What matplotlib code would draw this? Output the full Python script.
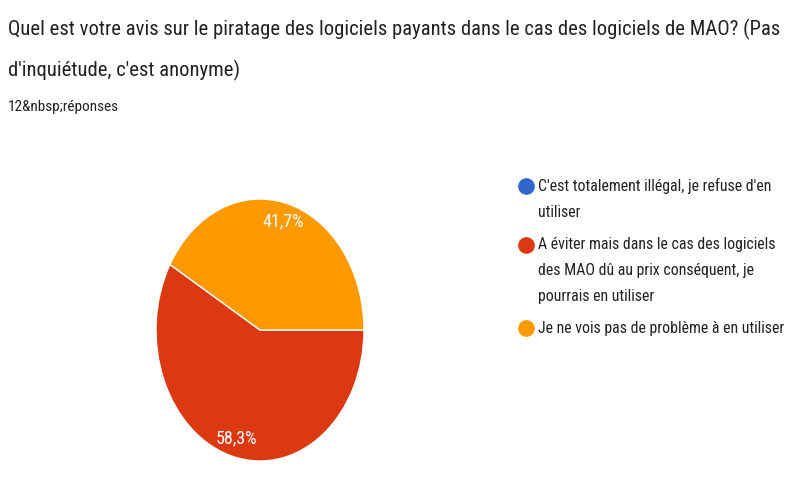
import matplotlib
matplotlib.use('Agg')
import matplotlib.pyplot as plt
import numpy as np
from matplotlib.lines import Line2D
from matplotlib.legend_handler import HandlerLine2D
from matplotlib import font_manager

# data
answers = ["C'est totalement illégal, je refuse d'en\nutiliser",
           "A éviter mais dans le cas des logiciels\ndes MAO dû au prix conséquent, je\npourrais en utiliser",
           "Je ne vois pas de problème à en utiliser"]
counts = [0, 7, 5]
colors = ['#3366cc', '#dc3912', '#ff9900']

title = "Quel est votre avis sur le piratage des logiciels payants dans le cas des logiciels de MAO? (Pas\nd'inquiétude, c'est anonyme)"
subtitle = "12&nbsp;réponses"

names = {f.name for f in font_manager.fontManager.ttflist}
condensed = None
for n in ['Roboto Condensed', 'Liberation Sans Narrow', 'Open Sans Condensed']:
    if n in names:
        condensed = n
        break
if condensed:
    plt.rcParams['font.family'] = [condensed, 'DejaVu Sans']
    title_size, sub_size, leg_size = 14.9, 11, 11.4
else:
    plt.rcParams['font.family'] = ['Roboto', 'DejaVu Sans']
    title_size, sub_size, leg_size = 13.6, 10, 10.1

fig = plt.figure(figsize=(8, 5), dpi=100, facecolor='white')

fig.text(0.01, 0.963, title, fontsize=title_size, color='#202124', va='top', ha='left',
         linespacing=2.25)
fig.text(0.01, 0.8, subtitle, fontsize=sub_size, color='#202124', va='top', ha='left')

# pie axes (picture is squeezed horizontally, so the pie is an ellipse)
ax = fig.add_axes([156 / 800, 39 / 500, 208 / 800, 262 / 500])

def fmt(pct):
    return '' if pct < 0.5 else f'{pct:.1f}%'.replace('.', ',')

wedges, texts, autotexts = ax.pie(counts, colors=colors, startangle=0, counterclock=False,
                                  autopct=fmt, pctdistance=0.86,
                                  wedgeprops=dict(edgecolor='white', linewidth=1))
for t in autotexts:
    t.set_color('white')
    t.set_fontsize(13)
ax.set_aspect('auto')
ax.set_xlim(-1, 1)
ax.set_ylim(-1, 1)


# legend dots sit on the first line of each entry, like Google Forms
class TopDot(HandlerLine2D):
    def __init__(self, shift, **kw):
        super().__init__(**kw)
        self.shift = shift

    def create_artists(self, *args, **kw):
        arts = super().create_artists(*args, **kw)
        for a in arts:
            a.set_ydata(np.asarray(a.get_ydata()) + self.shift)
        return arts


leg_ls = 1.9
line_pt = leg_size * 0.875 * leg_ls
handles = [Line2D([], [], marker='o', linestyle='none', markersize=11,
                  markerfacecolor=c, markeredgecolor=c) for c in colors]
hmap = {h: TopDot(0.5 * line_pt * (lab.count('\n'))) for h, lab in zip(handles, answers)}
leg = fig.legend(handles, answers, loc='upper left', bbox_to_anchor=(0.637, 0.66),
                 frameon=False, fontsize=leg_size, labelcolor='#222222', handletextpad=0.2,
                 labelspacing=1.1, handlelength=1.1, borderpad=0, handler_map=hmap)
for t in leg.get_texts():
    t.set_linespacing(leg_ls)

fig.savefig('out.png', dpi=100)
